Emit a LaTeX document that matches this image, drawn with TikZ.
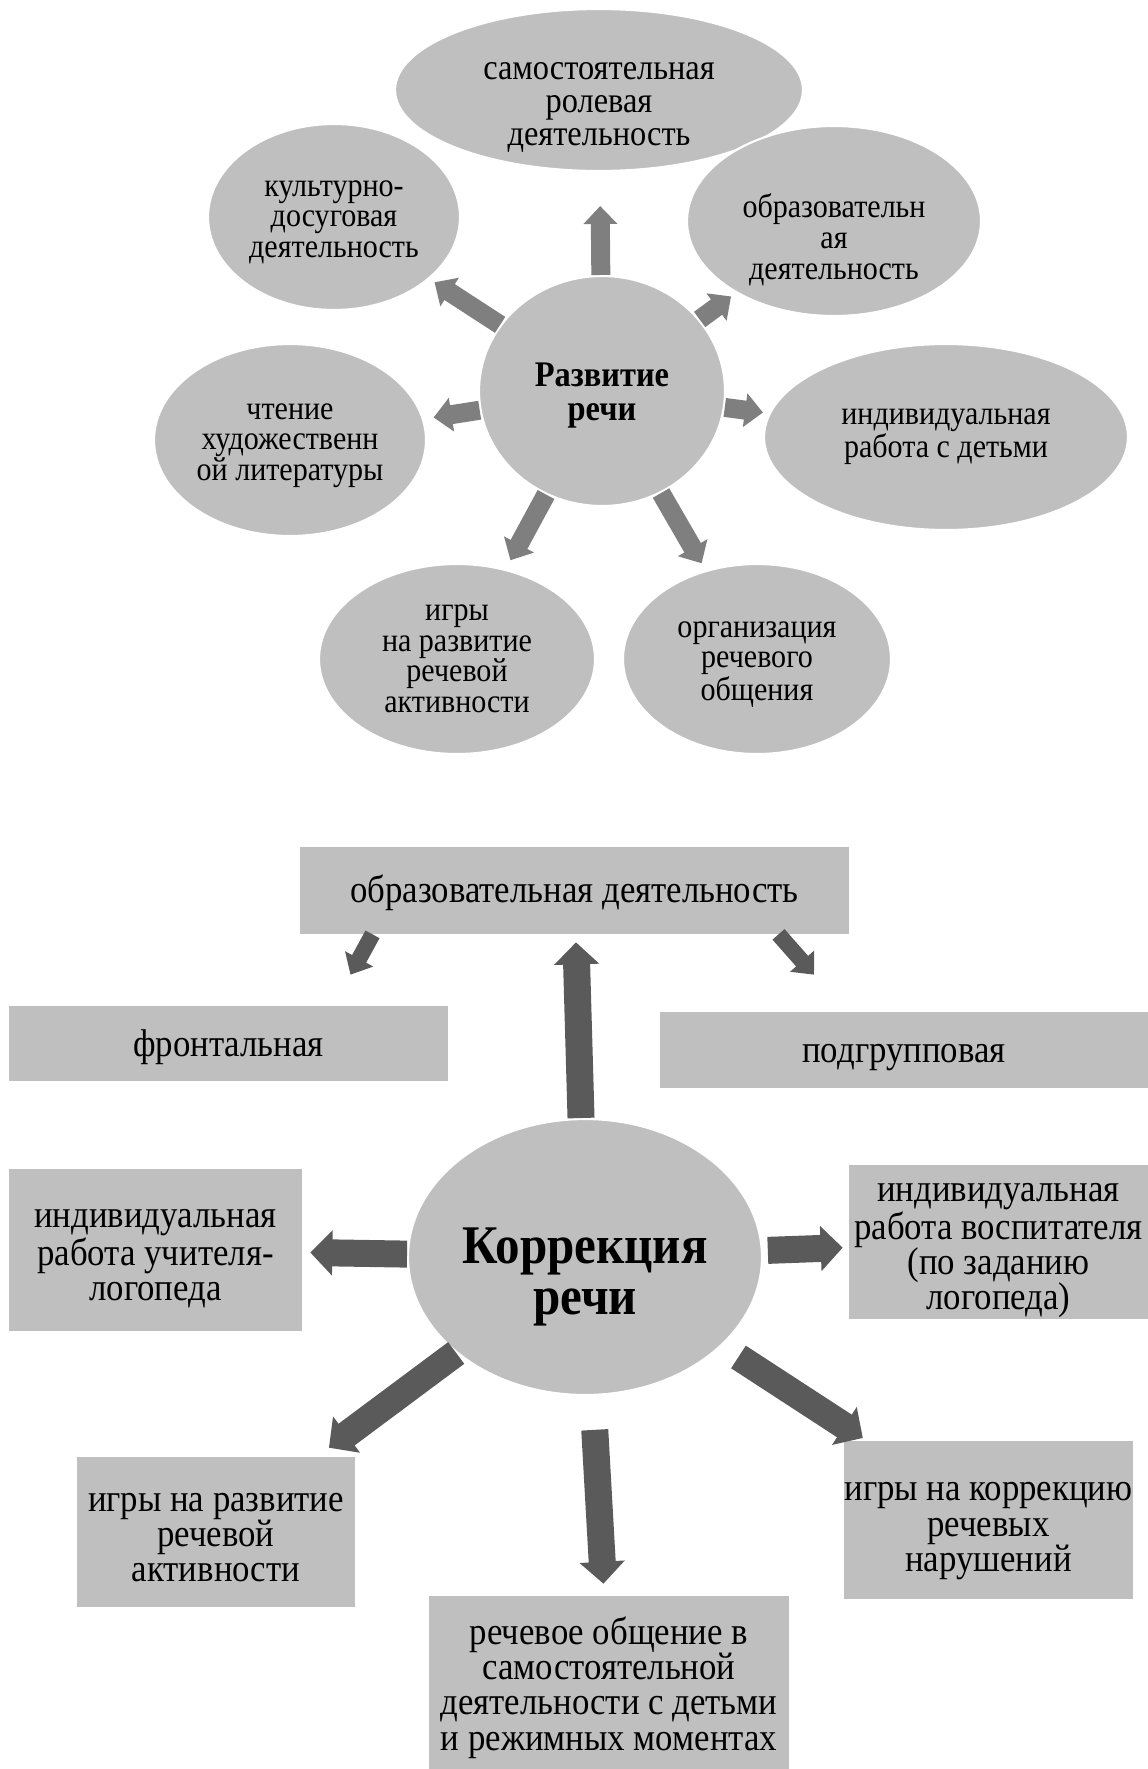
\documentclass[tikz,border=0pt]{standalone}
\usepackage{fontspec}
\setmainfont{Liberation Serif}[FakeStretch=0.9]
\usetikzlibrary{arrows.meta,shapes.geometric,calc}
\definecolor{fillgray}{HTML}{BFBFBF}
\definecolor{arrlight}{HTML}{7F7F7F}
\definecolor{arrdark}{HTML}{5A5A5A}
\newcommand{\lift}[1]{\rule{0pt}{#1}}

\begin{document}
\begin{tikzpicture}[x=0.02cm,y=-0.02cm,
  oval/.style={ellipse,fill=fillgray,draw=white,line width=1.2pt,inner sep=0pt,align=center,
    font=\fontsize{19}{17.4}\selectfont},
  hub/.style={oval,font=\fontsize{20.5}{19.5}\selectfont\bfseries},
  card/.style={rectangle,fill=fillgray,inner sep=0pt,align=center,
    font=\fontsize{22}{20}\selectfont},
  arrtop/.style={draw=arrlight,line width=0.38cm,-{Triangle[length=0.36cm,width=0.66cm]},shorten >=0.12cm},
  arrbot/.style={draw=arrdark,line width=0.54cm,-{Triangle[length=0.44cm,width=0.88cm]}},
  arrsmall/.style={draw=arrdark,line width=0.32cm,-{Triangle[length=0.36cm,width=0.62cm]}}]
  \useasboundingbox (0,0) rectangle (1148,1769);

  % upper scheme
  \node[oval,minimum width=8.16cm,minimum height=3.24cm,inner ysep=-6pt,font=\fontsize{20.5}{18.8}\selectfont] (role) at (599,90) {\lift{30pt}самостоятельная\\ролевая\\деятельность};
  \node[oval,minimum width=5.04cm,minimum height=3.72cm] (kult) at (334,217) {\lift{15pt}культурно-\\досуговая\\деятельность};
  \node[oval,minimum width=5.88cm,minimum height=3.8cm] (obraz) at (834,221) {\lift{35pt}образовательн\\ая\\деятельность};
  \node[hub,minimum width=4.92cm,minimum height=4.6cm] (razv) at (602,391) {\lift{18.5pt}Развитие\\речи};
  \node[oval,minimum width=5.44cm,minimum height=3.84cm] (chten) at (290,440) {\lift{15pt}чтение\\художественн\\ой литературы};
  \node[oval,minimum width=7.28cm,minimum height=3.72cm] (indiv) at (946,437) {индивидуальная\\работа с детьми};
  \node[oval,minimum width=5.52cm,minimum height=3.8cm] (igry) at (457,659) {игры\\на развитие\\речевой\\активности};
  \node[oval,minimum width=5.36cm,minimum height=3.8cm] (org) at (757,659) {\lift{15pt}организация\\речевого\\общения};

  \draw[arrtop,shorten >=0.68cm] (razv) -- (role);
  \draw[arrtop] (razv) -- (kult);
  \draw[arrtop] (razv) -- (obraz);
  \draw[arrtop,shorten >=0.2cm] (razv) -- (chten);
  \draw[arrtop] (razv) -- (indiv);
  \draw[arrtop,shorten >=0.2cm] (razv) -- (igry);
  \draw[arrtop,shorten >=0.16cm] (razv) -- (org);

  % lower scheme
  \node[card,minimum width=10.98cm,minimum height=1.74cm] (obrazD) at (574.5,890.5) {\lift{18pt}образовательная деятельность};
  \node[card,minimum width=8.78cm,minimum height=1.5cm] (front) at (228.5,1043.5) {\lift{19pt}фронтальная};
  \node[card,minimum width=9.76cm,minimum height=1.52cm] (podgr) at (904,1050) {\lift{19pt}подгрупповая};
  \node[oval,minimum width=7.08cm,minimum height=5.52cm,font=\fontsize{31}{29}\selectfont\bfseries] (korr) at (585,1257) {\lift{43pt}Коррекция\\речи};
  \node[card,minimum width=5.86cm,minimum height=3.24cm] (uchit) at (155.5,1250) {\lift{20pt}индивидуальная\\работа учителя-\\логопеда};
  \node[card,minimum width=5.98cm,minimum height=3.08cm] (vosp) at (998.5,1242) {\lift{20pt}индивидуальная\\работа воспитателя\\(по заданию\\логопеда)};
  \node[card,minimum width=5.56cm,minimum height=3cm] (igryR) at (216,1532) {\lift{16.5pt}игры на развитие\\речевой\\активности};
  \node[card,minimum width=7.2cm,minimum height=3.46cm] (rech) at (609,1682.5) {\lift{21.5pt}речевое общение в\\самостоятельной\\деятельности с детьми\\и режимных моментах};
  \node[card,minimum width=5.78cm,minimum height=3.16cm] (korrIg) at (988.5,1520) {\lift{23pt}игры на коррекцию\\речевых\\нарушений};

  \draw[arrbot,shorten >=0.16cm] (korr) -- (obrazD);
  \draw[arrsmall] ($(obrazD.south)+(-202,0)$) -- ($(front.north)+(122,-31)$);
  \draw[arrsmall] ($(obrazD.south)+(204,0)$) -- ($(podgr.north)+(-90,-37)$);
  \draw[arrbot,shorten >=0.16cm] (korr) -- (uchit);
  \draw[arrbot,shorten <=0.1cm,shorten >=0.12cm] (korr) -- (vosp);
  \draw[arrbot,shorten >=0.3cm] (korr) -- (igryR);
  \draw[arrbot,shorten <=0.68cm,shorten >=0.24cm] (korr) -- (rech);
  \draw[arrbot,shorten <=0.4cm,shorten >=0.1cm] (korr) -- (korrIg);
\end{tikzpicture}
\end{document}
